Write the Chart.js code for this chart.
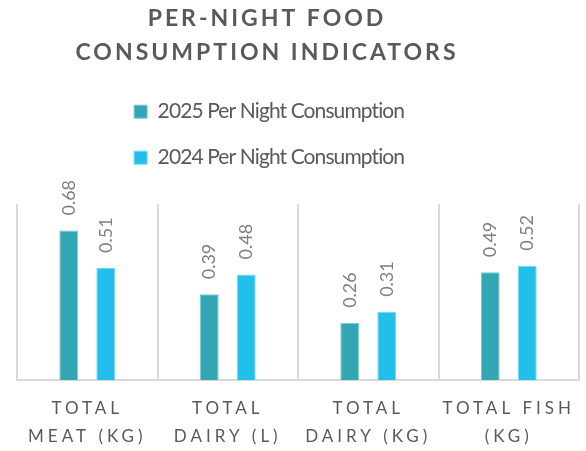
<!DOCTYPE html>
<html>
<head>
<meta charset="utf-8">
<script src="https://cdn.jsdelivr.net/npm/chart.js@4"></script>
<style>
    html, body { margin: 0; padding: 0; background: #fff; }
    #wrap { width: 586px; height: 451px; }
</style>
</head>
<body>
<div id="wrap"><canvas id="foodChart"></canvas></div>
<script>
// ===== Data =====
const categories = [["TOTAL", "MEAT (KG)"], ["TOTAL", "DAIRY (L)"], ["TOTAL", "DAIRY (KG)"], ["TOTAL FISH", "(KG)"]];
const seriesNames = ["2025 Per Night Consumption", "2024 Per Night Consumption"];
const values2025 = [0.68, 0.39, 0.26, 0.49];
const values2024 = [0.51, 0.48, 0.31, 0.52];
const titleLines = ["PER-NIGHT FOOD", "CONSUMPTION INDICATORS"];

// wrap a draw method so it runs with letter spacing / a shift
function wrapDraw(chart, obj, method, spacing, shiftX) {
    if (!obj || obj["_wrapped_" + method]) return;
    const orig = obj[method];
    obj[method] = function (...args) {
        const ctx = chart.ctx;
        ctx.save();
        ctx.letterSpacing = spacing;
        ctx.translate(shiftX, 0);
        orig.apply(this, args);
        ctx.restore();
    };
    obj["_wrapped_" + method] = true;
}

const spacedText = {
    id: "spacedText",
    afterLayout(chart) {
        wrapDraw(chart, chart.titleBlock, "draw", "3px", -31);
        wrapDraw(chart, chart.legend, "draw", "-0.9px", -17);
        wrapDraw(chart, chart.scales.x, "drawLabels", "4px", 0);
    }
};

// ===== Value labels (rotated, above bars) =====
const barValueLabels = {
    id: "barValueLabels",
    afterDatasetsDraw(chart) {
        const ctx = chart.ctx;
        ctx.save();
        ctx.font = "18px Lato";
        ctx.fillStyle = "#7f7f7f";
        ctx.textAlign = "left";
        ctx.textBaseline = "middle";
        chart.data.datasets.forEach((ds, i) => {
            chart.getDatasetMeta(i).data.forEach((bar, j) => {
                ctx.save();
                ctx.translate(bar.x, bar.y - 15);
                ctx.rotate(-Math.PI / 2);
                ctx.fillText(ds.data[j].toFixed(2), 0, 0);
                ctx.restore();
            });
        });
        ctx.restore();
    }
};

const foodChart = new Chart(document.getElementById("foodChart").getContext("2d"), {
    type: "bar",
    data: {
        labels: categories,
        datasets: [{
            label: seriesNames[0],
            data: values2025,
            backgroundColor: "#33a6b3",
            borderColor: "#7ccbd3",
            borderWidth: 1,
            categoryPercentage: 0.527,
            barPercentage: 0.51
        }, {
            label: seriesNames[1],
            data: values2024,
            backgroundColor: "#22bfea",
            borderColor: "#74d6f2",
            borderWidth: 1,
            categoryPercentage: 0.527,
            barPercentage: 0.51
        }]
    },
    options: {
        responsive: true,
        maintainAspectRatio: false,
        animation: false,
        layout: { padding: { top: 0, left: 17, right: 7, bottom: 1 } },
        plugins: {
            title: {
                display: true,
                text: titleLines,
                color: "#595959",
                font: { family: "Lato", size: 23, weight: "bold", lineHeight: 1.46 },
                padding: { top: 2, bottom: 7 }
            },
            subtitle: {
                // spacer between legend and plot
                display: true,
                text: " ",
                color: "transparent",
                font: { size: 10, lineHeight: 1 },
                padding: { top: 8, bottom: 8 },
                weight: 500
            },
            legend: {
                position: "top",
                labels: {
                    font: { family: "Lato", size: 21 },
                    color: "#595959",
                    boxWidth: 13,
                    boxHeight: 13,
                    padding: 25
                }
            },
            tooltip: { enabled: false }
        },
        scales: {
            x: {
                afterFit(scale) { scale.height = 70; },
                grid: { color: "#d9d9d9", lineWidth: 2, drawTicks: false },
                border: { color: "#d9d9d9", width: 2 },
                ticks: {
                    color: "#595959",
                    font: { family: "Lato", size: 17, lineHeight: 1.65 },
                    padding: 14,
                    maxRotation: 0,
                    autoSkip: false
                }
            },
            y: { display: false, min: 0, max: 0.8 }
        }
    },
    plugins: [spacedText, barValueLabels]
});
</script>
</body>
</html>
